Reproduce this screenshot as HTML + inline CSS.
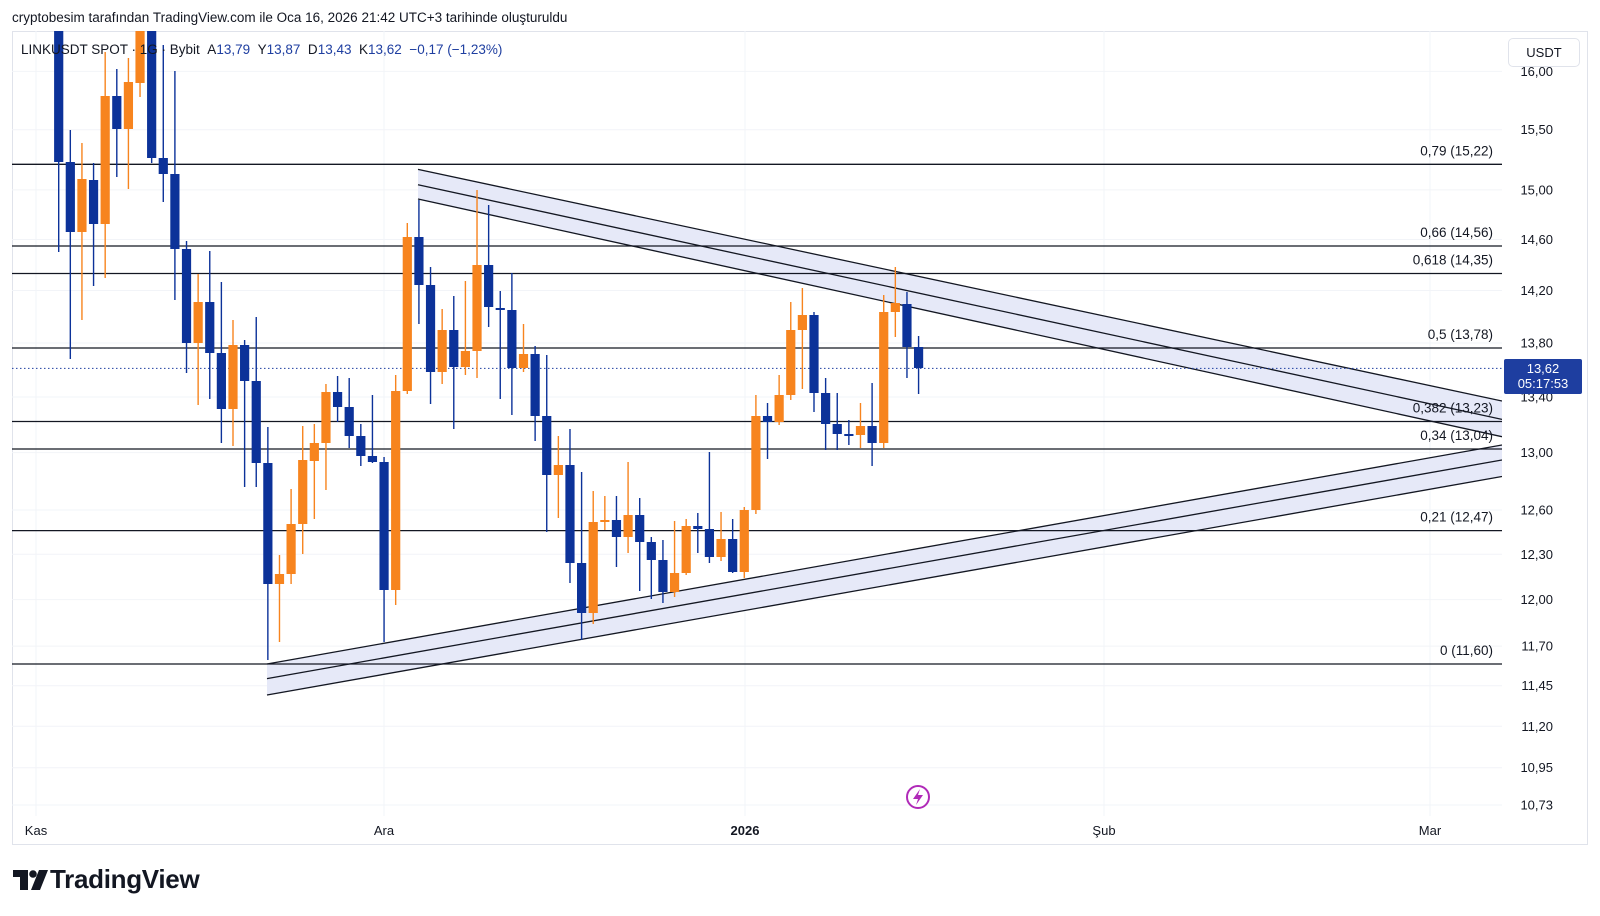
<!DOCTYPE html>
<html><head><meta charset="utf-8"><style>
html,body{margin:0;padding:0;background:#fff;}
body{width:1600px;height:916px;position:relative;overflow:hidden;font-family:"Liberation Sans",sans-serif;color:#131722;}
.t{position:absolute;white-space:nowrap;}
</style></head><body>
<div class="t" style="left:12px;top:10px;font-size:13.5px;">cryptobesim tarafından TradingView.com ile Oca 16, 2026 21:42 UTC+3 tarihinde oluşturuldu</div>
<svg id="c" width="1600" height="916" style="position:absolute;left:0;top:0" xmlns="http://www.w3.org/2000/svg"></svg>
<div class="t" style="left:21px;top:42px;font-size:13.5px;background:rgba(255,255,255,0.0)">LINKUSDT SPOT · 1G · Bybit &nbsp;A<span style="color:#1e3ea0">13,79</span> &nbsp;Y<span style="color:#1e3ea0">13,87</span> &nbsp;D<span style="color:#1e3ea0">13,43</span> &nbsp;K<span style="color:#1e3ea0">13,62</span> &nbsp;<span style="color:#1e3ea0">−0,17 (−1,23%)</span></div>
<div class="t" style="left:1508px;top:38px;width:70px;height:27px;border:1px solid #e0e3eb;border-radius:5px;background:#fff;font-size:13px;line-height:27px;text-align:center;">USDT</div>
<div class="t" style="left:1504px;top:359px;width:78px;height:35px;background:#1e3ea0;border-radius:2px;color:#fff;font-size:13px;line-height:15px;text-align:center;padding-top:2px;box-sizing:border-box;">13,62<br>05:17:53</div>
<div class="t" style="left:12px;top:864px;font-size:26px;font-weight:bold;letter-spacing:-0.3px;"><span style="display:inline-block;width:38px;"></span>TradingView</div>
<script>
const s=document.getElementById('c');let h='';
const Y=p=>71.4+(2.7726-Math.log(p))*1836;
h+='<defs><clipPath id="cp"><rect x="12" y="31" width="1490" height="785"/></clipPath></defs>';
h+='<rect x="12.5" y="31.5" width="1575" height="813" fill="none" stroke="#e0e3eb"/>';
const ticks=[16,15.5,15,14.6,14.2,13.8,13.4,13,12.6,12.3,12,11.7,11.45,11.2,10.95,10.73];
ticks.forEach(p=>{const y=Y(p);h+=`<line x1="12" x2="1502" y1="${y}" y2="${y}" stroke="#f2f4f8"/>`;
h+=`<text x="1553" y="${y+4.5}" font-size="13" text-anchor="end" fill="#131722" font-family="Liberation Sans">${p.toFixed(2).replace('.',',')}</text>`});
[36,384,745,1104,1430].forEach(x=>h+=`<line x1="${x}" x2="${x}" y1="31" y2="816" stroke="#f2f4f8"/>`);
const tl=[[36,'Kas',''],[384,'Ara',''],[745,'2026','bold'],[1104,'Şub',''],[1430,'Mar','']];
tl.forEach(([x,t,b])=>h+=`<text x="${x}" y="835" font-size="13" text-anchor="middle" font-weight="${b||'normal'}" fill="#131722" font-family="Liberation Sans">${t}</text>`);
const fib=[[164.3,'0,79 (15,22)'],[246,'0,66 (14,56)'],[273.5,'0,618 (14,35)'],[348,'0,5 (13,78)'],[421.5,'0,382 (13,23)'],[449,'0,34 (13,04)'],[530.6,'0,21 (12,47)'],[664,'0 (11,60)']];
h+='<g clip-path="url(#cp)">';
h+=`<polygon points="418,169.4 1502,401 1502,436.7 418,199" fill="#e6e9f8"/>`;
h+=`<polygon points="267,664 1502,445 1502,476.5 267,695" fill="#e6e9f8"/>`;
[[169.4,401],[184.7,419.4],[199,436.7]].forEach(([a,b])=>h+=`<line x1="418" y1="${a}" x2="1502" y2="${b}" stroke="#131722" stroke-width="1.3"/>`);
[[664,445],[678.6,460],[695,476.5]].forEach(([a,b])=>h+=`<line x1="267" y1="${a}" x2="1502" y2="${b}" stroke="#131722" stroke-width="1.3"/>`);
fib.forEach(([y,t])=>{h+=`<line x1="12" x2="1502" y1="${y}" y2="${y}" stroke="#131722" stroke-width="1.3"/>`;
h+=`<text x="1493" y="${y-9}" font-size="13.5" text-anchor="end" fill="#131722" font-family="Liberation Sans">${t}</text>`});
h+=`<line x1="12" x2="1502" y1="368.4" y2="368.4" stroke="#1e3ea0" stroke-dasharray="1.5,2.5"/>`;
const d=[
['b',0,162,0,252],['b',162,232,130,359],['o',179,232,143,320],['b',180,224,163,286],['o',96,224,52,278],
['b',96,129,69,177],['o',82,129,58,189],['o',0,83,0,97],['b',0,158,0,163],['b',158,174,45,202],
['b',174,249,71,300],['b',249,343,241,373],['o',302,343,274,405],['b',302,353,251,399],['b',353,409,282,443],
['o',345,409,320,446],['b',345,381,340,487],['b',381,463,317,487],['b',463,584,427,660],['o',574,584,555,642],
['o',524,574,489,584],['o',460,524,426,554],['o',443,461,424,519],['o',392,443,384,490],['b',392,407,376,422],
['b',407,436,378,448],['b',436,456,424,466],['b',456,462,395,463],['b',462,590,457,642],['o',391,590,375,605],
['o',237,391,223,394],['b',237,285,200,324],['b',285,372,267,404],['o',330,372,309,384],['b',330,367,296,429],
['o',351,367,281,375],['o',265,351,190,378],['b',265,307,205,327],['b',308,310,291,399],['b',310,368,273,415],
['o',354,368,324,372],['b',354,416,346,441],['b',416,475,355,532],['o',465,475,436,518],['b',465,563,429,583],
['b',563,613,472,640],['o',522,613,491,624],['o',520,522,496,530],['b',520,537,496,567],['o',515,537,462,553],
['b',515,542,498,591],['b',542,560,537,599],['b',560,592,540,603],['o',573,592,521,597],['o',526,573,519,575],
['b',526,529,513,553],['b',529,557,452,563],['o',539,557,512,561],['b',539,572,519,573],['o',510,572,507,578],
['o',416,510,395,514],['b',416,422,403,459],['o',395,422,375,425],['o',330,395,302,400],['o',315,330,288,389],
['b',315,393,312,412],['b',393,424,378,450],['b',424,434,393,450],['b',434,435,420,445],['o',426,435,403,448],
['b',426,443,383,466],['o',312,443,295,448],['o',303,312,267,337],['b',304,347,292,378],['b',347,368,336,394]];
d.forEach((c,i)=>{const x=58.7+i*11.62,col=c[0]=='o'?'#f7841e':'#0c3299';
h+=`<line x1="${x}" x2="${x}" y1="${c[3]}" y2="${c[4]}" stroke="${col}" stroke-width="1.4"/>`;
h+=`<rect x="${x-4.6}" y="${c[1]}" width="9.2" height="${Math.max(2,c[2]-c[1])}" fill="${col}"/>`});
h+='</g>';
h+=`<circle cx="918" cy="797" r="11" fill="#fff" stroke="#b02ab8" stroke-width="2"/><path d="M920 789 L913 799 L918 799 L916 805 L923 795 L918 795 Z" fill="#b02ab8"/>`;
h+=`<path d="M13 870 H28 V890 H20 V877 H13 Z" fill="#131722"/><circle cx="33" cy="874" r="3.8" fill="#131722"/><path d="M39 870 H48 L40 890 H31 Z" fill="#131722"/>`;
s.innerHTML=h;
</script>
</body></html>
